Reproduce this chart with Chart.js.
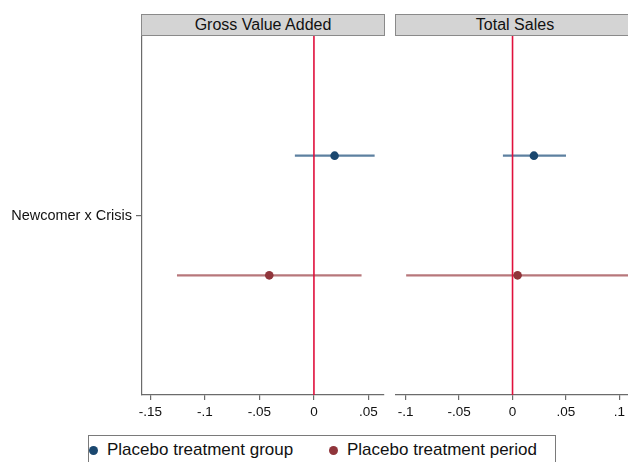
<!DOCTYPE html>
<html>
<head>
<meta charset="utf-8">
<script src="https://cdn.jsdelivr.net/npm/chart.js@4/dist/chart.umd.min.js"></script>
<style>
  html, body { margin: 0; padding: 0; background: #fff; overflow: hidden; }
  body { width: 628px; height: 462px; position: relative; font-family: "Liberation Sans", Arial, sans-serif; }
  canvas { position: absolute; }
  .hdr { position: absolute; box-sizing: border-box; top: 14px; height: 22px; background: #d4d4d4;
         border: 1px solid #8a8a8a; font-size: 16px; line-height: 20px; text-align: center; color: #111; }
  .legend { position: absolute; box-sizing: border-box; left: 88px; top: 435px; width: 468px; height: 40px;
            border: 1px solid #7a7a7a; background: #fff; }
  .dot { position: absolute; width: 9px; height: 9px; border-radius: 50%; top: 10px; }
  .lab { position: absolute; top: 4px; font-size: 17px; line-height: 20px; color: #111; white-space: nowrap; }
</style>
</head>
<body>
<canvas id="c0" width="390" height="420" style="left:0;top:0"></canvas>
<canvas id="c1" width="260" height="420" style="left:390px;top:0"></canvas>
<div class="hdr" id="h0" style="left:141px;width:244px"></div>
<div class="hdr" id="h1" style="left:395px;width:240px"></div>
<div class="legend">
  <div class="dot" style="left:0px;background:#1a476f"></div>
  <div class="lab" id="l0" style="left:18px"></div>
  <div class="dot" style="left:240px;background:#90353b"></div>
  <div class="lab" id="l1" style="left:258px"></div>
</div>
<script>
// Coefficient estimates with confidence intervals, one entry per outcome panel
const panelTitles = ['Gross Value Added', 'Total Sales'];
const rowLabel = 'Newcomer x Crisis';
const seriesNames = ['Placebo treatment group', 'Placebo treatment period'];

const groupEst = [0.019, 0.020];
const groupLo  = [-0.0175, -0.009];
const groupHi  = [0.0557, 0.050];

const periodEst = [-0.041, 0.0047];
const periodLo  = [-0.1257, -0.0995];
const periodHi  = [0.0437, 0.120];

const tickValues = [[-0.15, -0.1, -0.05, 0, 0.05], [-0.1, -0.05, 0, 0.05, 0.1]];
const tickLabels = [['-.15', '-.1', '-.05', '0', '.05'], ['-.1', '-.05', '0', '.05', '.1']];
const axisRange = [[-0.1578, 0.0643], [-0.109, 0.108]];

const FONT = '"Liberation Sans", Arial, sans-serif';
const AXIS = '#6b6b6b';
const BLUE = '#1a476f', BLUE_CI = '#5d80a0';
const RED = '#90353b', RED_CI = '#b7777b';
const ZERO = '#e0103c';
// vertical placement of the two series around the single coefficient row
const Y_GROUP = 4, Y_PERIOD = 2, Y_ROW = 3, Y_MIN = 0, Y_MAX = 6;

document.getElementById('h0').textContent = panelTitles[0];
document.getElementById('h1').textContent = panelTitles[1];
document.getElementById('l0').textContent = seriesNames[0];
document.getElementById('l1').textContent = seriesNames[1];

function makePanel(id, i) {
  const first = i === 0;
  // only the left panel carries the row label and a visible vertical axis
  const yScale = {
    type: 'linear',
    display: first,
    min: Y_MIN, max: Y_MAX,
    afterBuildTicks: s => { s.ticks = [{ value: Y_ROW }]; },
    ticks: { display: first, color: '#111', padding: 4, font: { family: FONT, size: 14.5 }, callback: () => rowLabel },
    grid: { display: first, drawOnChartArea: false, drawTicks: true, tickLength: 6, color: AXIS, lineWidth: 1.2 },
    border: { display: first, color: AXIS, width: 1.2 }
  };
  if (first) yScale.afterFit = s => { s.width = 142; };

  new Chart(document.getElementById(id), {
    type: 'scatter',
    data: {
      datasets: [
        { label: seriesNames[0], data: [{ x: groupEst[i], y: Y_GROUP }], pointRadius: 4.3,
          backgroundColor: BLUE, borderWidth: 0, order: 1 },
        { label: seriesNames[1], data: [{ x: periodEst[i], y: Y_PERIOD }], pointRadius: 4.3,
          backgroundColor: RED, borderWidth: 0, order: 2 },
        { label: 'zero', data: [{ x: 0, y: Y_MIN }, { x: 0, y: Y_MAX }], showLine: true,
          pointRadius: 0, borderColor: ZERO, borderWidth: 1.6, order: 3 },
        { label: 'group CI', data: [{ x: groupLo[i], y: Y_GROUP }, { x: groupHi[i], y: Y_GROUP }],
          showLine: true, pointRadius: 0, borderColor: BLUE_CI, borderWidth: 2.2, order: 4 },
        { label: 'period CI', data: [{ x: periodLo[i], y: Y_PERIOD }, { x: periodHi[i], y: Y_PERIOD }],
          showLine: true, pointRadius: 0, borderColor: RED_CI, borderWidth: 2.2, order: 5 }
      ]
    },
    options: {
      responsive: false,
      animation: false,
      devicePixelRatio: 1,
      layout: { padding: first ? { top: 36, right: 6, left: 0, bottom: 0 } : { top: 36, right: 22, left: 6, bottom: 0 } },
      plugins: { legend: { display: false }, tooltip: { enabled: false } },
      scales: {
        x: {
          type: 'linear',
          min: axisRange[i][0], max: axisRange[i][1],
          afterBuildTicks: s => { s.ticks = tickValues[i].map(v => ({ value: v })); },
          afterFit: s => { s.height = 25; },
          ticks: {
            color: '#111', padding: 4, maxRotation: 0, minRotation: 0, autoSkip: false,
            font: { family: FONT, size: 13.5 },
            callback: v => { const k = tickValues[i].findIndex(t => Math.abs(t - v) < 1e-9); return k >= 0 ? tickLabels[i][k] : ''; }
          },
          grid: { display: true, drawOnChartArea: false, drawTicks: true, tickLength: 5, color: AXIS, lineWidth: 1.2 },
          border: { display: true, color: AXIS, width: 1.2 }
        },
        y: yScale
      }
    }
  });
}

makePanel('c0', 0);
makePanel('c1', 1);
</script>
</body>
</html>
